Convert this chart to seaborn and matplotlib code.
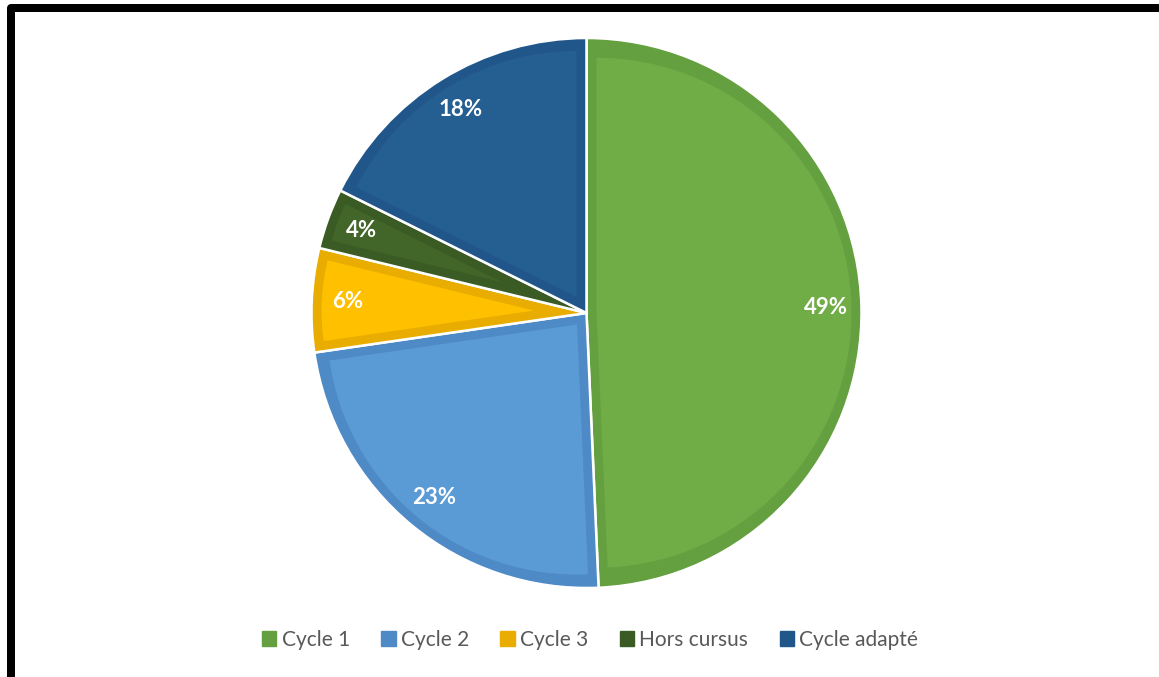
import matplotlib
matplotlib.use("Agg")
import matplotlib.pyplot as plt
from matplotlib.patches import Patch, Rectangle, Wedge
import numpy as np
import seaborn as sns

# Data (shares; labels round to 49/23/6/4/18 %)
categories = ["Cycle 1", "Cycle 2", "Cycle 3", "Hors cursus", "Cycle adapté"]
values = [49.3, 23.4, 6.1, 3.55, 17.65]

# Colours (inner face / outer border band, also used for legend)
face_colors = ["#70AD47", "#5B9BD5", "#FFC000", "#426629", "#255E91"]
edge_colors = ["#64A03F", "#4E8AC6", "#E8AD00", "#3A5C24", "#21568A"]

sns.set_style("white")
plt.rcParams["font.family"] = ["Lato", "DejaVu Sans"]

W, H = 1159, 677
fig = plt.figure(figsize=(W / 100, H / 100), dpi=100)

# pie centre and radius in pixels (from top-left)
cx, cy, r = 586.5, 313, 275
ax = fig.add_axes([(cx - r) / W, (H - cy - r) / H, 2 * r / W, 2 * r / H])

# outer (darker) pie with white separators
wedges, texts, autotexts = ax.pie(
    values,
    colors=edge_colors,
    startangle=90,
    counterclock=False,
    autopct="%1.0f%%",
    pctdistance=0.87,
    radius=1,
    wedgeprops=dict(edgecolor="white", linewidth=1.8),
    textprops=dict(color="white", fontsize=16, fontweight="bold"),
)

# lighter inset of each wedge (border band ~10 px)
d = 10 / r
for w, fc in zip(wedges, face_colors):
    half = np.radians((w.theta2 - w.theta1) / 2)
    mid = np.radians((w.theta1 + w.theta2) / 2)
    s = d / np.sin(half)
    c = (s * np.cos(mid), s * np.sin(mid))
    inner = Wedge(c, 1 - d - s, w.theta1, w.theta2, facecolor=fc, edgecolor="none", zorder=2)
    ax.add_patch(inner)

for t in autotexts:
    t.set_zorder(10)

ax.set_xlim(-1, 1)
ax.set_ylim(-1, 1)
ax.axis("off")

handles = [Patch(facecolor=c, edgecolor=c) for c in edge_colors]
fig.legend(
    handles,
    categories,
    loc="center",
    bbox_to_anchor=(590 / W, 1 - 640 / H),
    ncol=5,
    frameon=False,
    fontsize=15,
    labelcolor="#595959",
    handlelength=0.7,
    handleheight=0.7,
    handletextpad=0.25,
    columnspacing=1.5,
)

# black frame around the chart (right side runs past the image)
fig.patches.append(
    Rectangle(
        (11 / W, 1 - 680 / H),
        1170 / W,
        (680 - 7.5) / H,
        transform=fig.transFigure,
        fill=False,
        edgecolor="black",
        linewidth=8 * 0.72,
        joinstyle="round",
    )
)

fig.savefig("out.png", dpi=100)
plt.close("all")
